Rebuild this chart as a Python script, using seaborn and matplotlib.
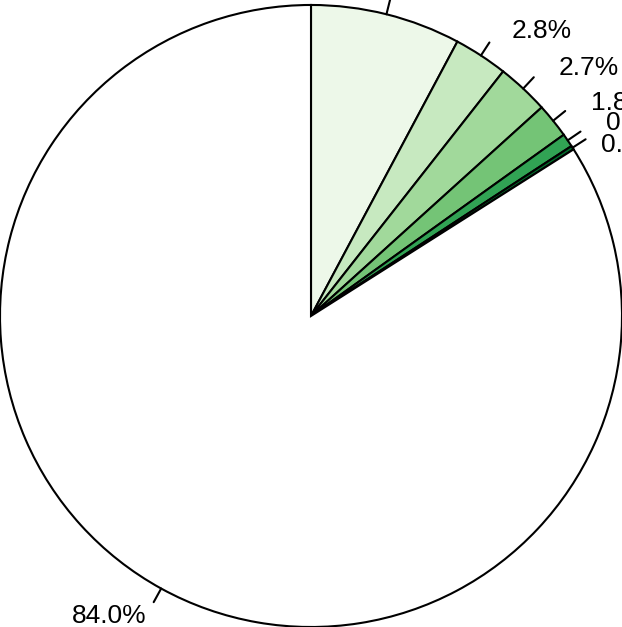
import numpy as np
import matplotlib
matplotlib.use("Agg")
import matplotlib.pyplot as plt
import matplotlib.transforms as mtransforms
import seaborn as sns

# slice shares in percent, clockwise from 12 o'clock
shares = [7.8, 2.8, 2.7, 1.8, 0.7, 0.2, 84.0]
labels = [f"{v:.1f}%" for v in shares]
colors = ["#edf8e9", "#c7e9c0", "#a1d99b", "#74c476", "#31a354", "#006d2c", "#ffffff"]

sns.set_theme(style="white")
plt.rcParams["font.family"] = ["Liberation Sans", "DejaVu Sans"]

fig = plt.figure(figsize=(6.22, 6.27), dpi=100)
ax = fig.add_axes([0, 0, 1, 1])

wedges, texts = ax.pie(
    shares, labels=labels, colors=colors, startangle=90, counterclock=False,
    labeldistance=1.1, radius=1.0,
    wedgeprops=dict(edgecolor="black", linewidth=1.5),
    textprops=dict(fontsize=19, color="black"),
)

# labels on the right sit a little further out; the two tiny slices are nudged apart
for i, t in enumerate(texts):
    dx, dy = 0, 0
    if t.get_ha() == "left":
        dx, dy = 14, -2
    if i == 4:
        dx, dy = 13, 0
    if i == 5:
        dx, dy = 2, -14
    t.set_transform(t.get_transform() + mtransforms.ScaledTranslation(dx / 100, dy / 100, fig.dpi_scale_trans))

# small tick marks outside the circle at each slice's middle
for w in wedges:
    mid = np.deg2rad((w.theta1 + w.theta2) / 2)
    ax.plot([np.cos(mid), 1.05 * np.cos(mid)], [np.sin(mid), 1.05 * np.sin(mid)],
            color="black", lw=1.5)

ax.set_xlim(-1.0, 1.0)
ax.set_ylim(-1.0, 1.016)
ax.set_aspect("auto")
ax.axis("off")

fig.savefig("out.png", dpi=100)
